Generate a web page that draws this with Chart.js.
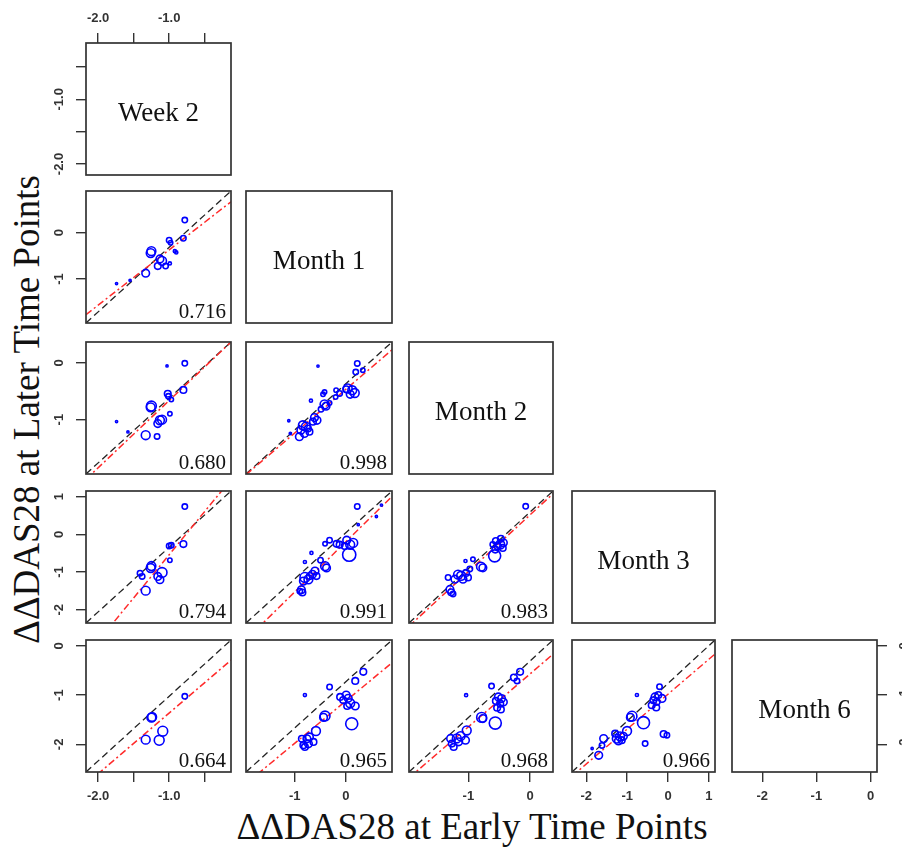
<!DOCTYPE html>
<html><head><meta charset="utf-8">
<script src="https://cdn.jsdelivr.net/npm/chart.js@4.4.1/dist/chart.umd.min.js"></script>
<style>
html,body{margin:0;padding:0;background:#fff;}
#wrap{position:relative;width:902px;height:847px;overflow:hidden;background:#fff;}
#wrap canvas{position:absolute;}
.title{position:absolute;font-family:'Liberation Serif','Times New Roman',serif;font-size:37px;color:#111;white-space:nowrap;text-align:center;line-height:37px;height:37px;width:600px;}
#xt{left:172px;top:808px;}
#yt{left:-274px;top:391px;transform:rotate(-90deg);}
</style></head><body><div id="wrap">
<div class="title" id="xt">ΔΔDAS28 at Early Time Points</div>
<div class="title" id="yt">ΔΔDAS28 at Later Time Points</div>
</div>
<script>
// ---------- variables (diagonal) ----------
const varNames = ['Week 2','Month 1','Month 2','Month 3','Month 6'];
const varRange = [[-2.17,-0.13],[-1.95,0.90],[-1.96,0.37],[-2.35,1.15],[-2.56,0.12]];
const varTicks = [[-2,-1.5,-1,-0.5],[-1,0],[-1,0],[-2,-1,0,1],[-2,-1,0]];
const varTickLabels = [['-2.0','','-1.0',''],['-1','0'],['-1','0'],['-2','-1','0','1'],['-2','-1','0']];
// data window used inside the panels of each column (equal x and y limits)
const columnWindow = [[-2.17,-0.13],[-2.0,0.9],[-1.95,0.37],[-2.33,1.15]];

// ---------- panels (lower triangle) ----------
const panelRows = [1,2,3,4,2,3,4,3,4,4];
const panelCols = [0,0,0,0,1,1,1,2,2,3];
const corrValues = [0.716,0.680,0.794,0.664,0.998,0.991,0.965,0.983,0.968,0.966];
const fitSlope = [0.855,1.04,1.336,0.939,0.946,1.086,0.916,1.004,0.937,0.926];
const fitIntercept = [-0.185,0.005,0.221,-0.32,-0.124,-0.197,-0.424,-0.05,-0.226,-0.284];

// Month 1 vs Week 2
const p10x = [-0.78,-0.80,-1.00,-0.98,-1.25,-1.26,-1.13,-1.10,-1.16,-1.05,-0.99,-0.92,-0.90,-1.33,-1.74,-1.55];
const p10y = [-0.58,-0.86,-0.89,-0.93,-1.06,-1.09,-1.18,-1.21,-1.29,-1.29,-1.25,-1.06,-1.08,-1.40,-1.56,-1.51];
const p10w = [6,6,6,4,16,16,12,16,9,6,2,2,2,12,1,1];
// Month 2 vs Week 2
const p20x = [-0.78,-1.03,-0.80,-1.02,-1.01,-0.97,-1.25,-1.26,-0.99,-1.13,-1.10,-1.16,-1.33,-1.17,-1.74,-1.58];
const p20y = [-0.46,-0.50,-0.87,-0.93,-0.97,-1.02,-1.12,-1.14,-1.24,-1.34,-1.33,-1.39,-1.57,-1.59,-1.36,-1.52];
const p20w = [6,1,9,9,6,4,20,16,4,16,16,12,16,6,1,1];
// Month 3 vs Week 2
const p30x = [-0.78,-0.80,-1.00,-0.97,-0.99,-1.25,-1.26,-1.41,-1.38,-1.10,-1.16,-1.13,-1.33];
const p30y = [-0.37,-0.95,-0.98,-0.97,-1.20,-1.29,-1.32,-1.40,-1.45,-1.39,-1.45,-1.50,-1.67];
const p30w = [6,9,6,6,4,16,16,6,6,20,12,12,16];
// Month 6 vs Week 2
const p40x = [-0.78,-1.24,-1.25,-1.09,-1.33,-1.14];
const p40y = [-1.00,-1.32,-1.33,-1.54,-1.67,-1.68];
const p40w = [6,16,16,20,16,20];
// Month 2 vs Month 1
const p21x = [0.21,0.18,0.32,-0.57,-0.44,-0.47,-0.71,-1.15,0.02,0.11,0.16,0.07,-0.01,-0.21,-0.14,-0.22,-0.44,-0.41,-0.51,-0.34,-0.64,-0.59,-0.67,-0.87,-0.81,-0.91,-0.84,-0.94,-0.74,-0.77,-1.12];
const p21y = [0.43,0.24,0.28,0.37,-0.20,-0.25,-0.39,-0.83,-0.12,-0.16,-0.22,-0.25,-0.14,-0.16,-0.23,-0.31,-0.47,-0.51,-0.58,-0.44,-0.76,-0.82,-0.85,-0.93,-0.96,-1.04,-1.11,-1.18,-1.07,-1.00,-1.11];
const p21w = [6,6,4,1,4,4,2,1,16,16,16,12,9,4,6,4,16,12,6,4,12,12,9,16,16,12,12,12,9,9,1];
// Month 3 vs Month 1
const p31x = [0.21,0.69,0.59,0.23,-0.34,-0.43,-0.70,-0.83,-0.20,-0.14,0.00,0.07,0.13,0.05,-0.04,-0.43,-0.40,-0.52,-0.63,-0.68,-0.60,-0.83,-0.76,-0.86,-0.73,-0.90,-0.88,-0.93];
const p31y = [0.56,0.59,0.34,0.16,-0.18,-0.26,-0.46,-0.66,-0.26,-0.28,-0.18,-0.28,-0.24,-0.50,-0.31,-0.75,-0.79,-0.62,-0.86,-0.93,-0.97,-1.00,-1.04,-1.08,-0.97,-1.27,-1.33,-1.30];
const p31w = [6,1,1,1,6,4,2,2,9,9,12,16,16,36,9,16,12,6,12,12,9,20,16,12,9,12,9,6];
// Month 6 vs Month 1
const p41x = [0.33,0.17,-0.34,-0.83,-0.13,-0.01,0.03,-0.07,0.07,0.17,0.01,0.10,-0.43,-0.46,-0.61,-0.74,-0.79,-0.89,-0.76,-0.83,-0.66,-0.86];
const p41y = [0.20,0.00,-0.13,-0.31,-0.35,-0.31,-0.38,-0.42,-0.49,-0.55,-0.55,-0.94,-0.77,-0.80,-1.10,-1.23,-1.27,-1.27,-1.38,-1.45,-1.34,-1.41];
const p41w = [9,9,6,2,9,12,12,9,16,12,9,30,20,12,16,12,12,9,12,9,9,9];
// Month 3 vs Month 2
const p32x = [-0.07,-0.47,-0.55,-0.60,-0.48,-0.43,-0.52,-0.56,-0.44,-0.57,-0.79,-0.76,-0.92,-1.04,-0.97,-1.16,-1.11,-1.03,-1.21,-1.08,-1.00,-1.32,-1.29,-1.27,-1.24];
const p32y = [0.10,-0.47,-0.51,-0.57,-0.57,-0.54,-0.60,-0.66,-0.63,-0.77,-0.96,-0.98,-0.83,-0.86,-1.00,-1.10,-1.12,-1.07,-1.18,-1.18,-1.15,-1.15,-1.36,-1.41,-1.44];
const p32w = [6,9,9,6,16,12,9,9,9,30,16,12,4,2,6,16,16,9,12,12,9,6,12,9,6];
// Month 6 vs Month 2
const p42x = [-0.16,-0.26,-0.21,-0.62,-1.03,-0.51,-0.46,-0.55,-0.43,-0.48,-0.53,-0.47,-0.56,-0.78,-0.76,-1.02,-1.12,-1.18,-1.28,-1.04,-1.15,-1.23,-1.26];
const p42y = [-0.19,-0.29,-0.35,-0.44,-0.60,-0.63,-0.66,-0.70,-0.72,-0.75,-0.82,-0.85,-1.09,-0.99,-1.01,-1.22,-1.32,-1.36,-1.36,-1.39,-1.42,-1.51,-1.45];
const p42w = [9,9,6,6,2,12,12,9,12,9,9,9,30,20,12,16,16,16,12,12,12,9,9];
// Month 6 vs Month 3
const p43x = [-0.20,-0.75,-0.31,-0.23,-0.14,-0.35,-0.27,-0.39,-0.28,-0.10,-0.02,-0.55,-0.59,-0.87,-0.91,-0.99,-1.16,-1.24,-1.08,-1.28,-1.20,-1.12,-1.56,-1.60,-1.68,-1.84];
const p43y = [-0.08,-0.30,-0.35,-0.30,-0.39,-0.44,-0.48,-0.57,-0.63,-1.33,-1.36,-1.58,-1.03,-0.86,-0.89,-1.25,-1.39,-1.45,-1.39,-1.32,-1.51,-1.49,-1.45,-1.63,-1.89,-1.71];
const p43w = [6,2,12,9,12,9,9,9,9,9,6,6,30,20,12,16,16,16,12,9,12,9,12,6,12,1];

const panelX = [p10x,p20x,p30x,p40x,p21x,p31x,p41x,p32x,p42x,p43x];
const panelY = [p10y,p20y,p30y,p40y,p21y,p31y,p41y,p32y,p42y,p43y];
const panelW = [p10w,p20w,p30w,p40w,p21w,p31w,p41w,p32w,p42w,p43w];

// ---------- layout ----------
const colLeft=[86,246,409,572,732], colW=[145,146,144,143,145];
const rowTop=[43,191,342,491,640], rowH=[132,132,132,132,132];
const M=45, AX=40;
const TICKFONT='"Liberation Sans", Arial, sans-serif';
const SERIF='"Liberation Serif", "Times New Roman", serif';
const wrap=document.getElementById('wrap');

function labelFor(v,val){
  const i=varTicks[v].findIndex(t=>Math.abs(t-val)<1e-9);
  return i<0?'':varTickLabels[v][i];
}
function axisScale(axis,pos,v){
  const isY=axis==='y';
  return {type:'linear',axis,position:pos,min:varRange[v][0],max:varRange[v][1],
    afterBuildTicks:s=>{s.ticks=varTicks[v].map(t=>({value:t}));},
    afterFit:s=>{ if(isY) s.width=AX; else s.height=AX; },
    grid:{display:true,drawOnChartArea:false,drawTicks:true,tickLength:10,color:'#333',lineWidth:1.4},
    border:{display:false},
    ticks:{display:!isY,autoSkip:false,maxRotation:0,minRotation:0,padding:7,color:'#333',
      font:{family:TICKFONT,size:13,weight:'bold'},callback:(val)=>labelFor(v,val)}
  };
}
const decoPlugin={id:'panelDeco',afterDraw(chart,args,o){
  const ctx=chart.ctx,a=chart.chartArea;
  ctx.save();
  ctx.strokeStyle='#333';ctx.lineWidth=1.7;
  ctx.strokeRect(a.left,a.top,a.right-a.left,a.bottom-a.top);
  ctx.fillStyle='#111';
  if(o.label){ctx.font='27px '+SERIF;ctx.textAlign='center';ctx.textBaseline='alphabetic';
    ctx.fillText(o.label,(a.left+a.right)/2,(a.top+a.bottom)/2+12);}
  if(o.corr){ctx.font='21px '+SERIF;ctx.textAlign='right';ctx.textBaseline='alphabetic';
    ctx.fillText(o.corr,a.right-5,a.bottom-5.5);}
  ['yl','yr'].forEach(id=>{
    const s=chart.scales[id]; if(!s) return;
    ctx.fillStyle='#333';ctx.font='bold 13px '+TICKFONT;ctx.textAlign='center';ctx.textBaseline='middle';
    s.ticks.forEach(t=>{
      const lab=labelFor(o.yVar,t.value); if(!lab) return;
      const y=s.getPixelForValue(t.value);
      const x=id==='yl'?a.left-27:a.right+27;
      ctx.save();ctx.translate(x,y);ctx.rotate(-Math.PI/2);ctx.fillText(lab,0,0);ctx.restore();
    });
  });
  ctx.restore();
}};

function makeChart(row,col,datasets,lim,deco){
  const c=document.createElement('canvas');
  const W=colW[col]+2*M,H=rowH[row]+2*M;
  c.width=W;c.height=H;c.style.width=W+'px';c.style.height=H+'px';
  c.style.left=(colLeft[col]-M)+'px';c.style.top=(rowTop[row]-M)+'px';
  wrap.appendChild(c);
  const showTop=row===0&&col===0,showLeft=col===0,showBottom=row===4,showRight=row===4&&col===4;
  const scales={x:{type:'linear',min:lim[0],max:lim[1],display:false},
                y:{type:'linear',min:lim[0],max:lim[1],display:false}};
  if(showBottom) scales.xb=axisScale('x','bottom',col);
  if(showTop) scales.xt=axisScale('x','top',col);
  if(showLeft) scales.yl=axisScale('y','left',row);
  if(showRight) scales.yr=axisScale('y','right',row);
  const padding={left:showLeft?M-AX:M,right:showRight?M-AX:M,top:showTop?M-AX:M,bottom:showBottom?M-AX:M};
  deco.yVar=row;
  new Chart(c,{type:'bubble',data:{datasets},
    options:{responsive:false,animation:false,devicePixelRatio:1,events:[],
      layout:{autoPadding:false,padding},
      plugins:{legend:{display:false},tooltip:{enabled:false},panelDeco:deco},
      scales},
    plugins:[decoPlugin]});
}

// diagonal panels
for(let v=0;v<5;v++) makeChart(v,v,[],varRange[v],{label:varNames[v]});

// scatter panels
for(let k=0;k<panelRows.length;k++){
  const lim=columnWindow[panelCols[k]],lo=lim[0],hi=lim[1];
  const pts=panelX[k].map((x,i)=>({x,y:panelY[k][i],r:1.1*Math.sqrt(panelW[k][i])}));
  const m=fitSlope[k],b=fitIntercept[k];
  const datasets=[
    {type:'bubble',data:pts,borderColor:'#0000ff',backgroundColor:'rgba(0,0,0,0)',borderWidth:1.6,order:0},
    {type:'line',data:[{x:lo,y:lo},{x:hi,y:hi}],borderColor:'#222',borderDash:[7,4],borderWidth:1.3,pointRadius:0,fill:false,order:2},
    {type:'line',data:[{x:lo,y:b+m*lo},{x:hi,y:b+m*hi}],borderColor:'#ff2a2a',borderDash:[7,3,2,3],borderWidth:1.5,pointRadius:0,fill:false,order:1}
  ];
  makeChart(panelRows[k],panelCols[k],datasets,lim,{corr:corrValues[k].toFixed(3)});
}
</script></body></html>
